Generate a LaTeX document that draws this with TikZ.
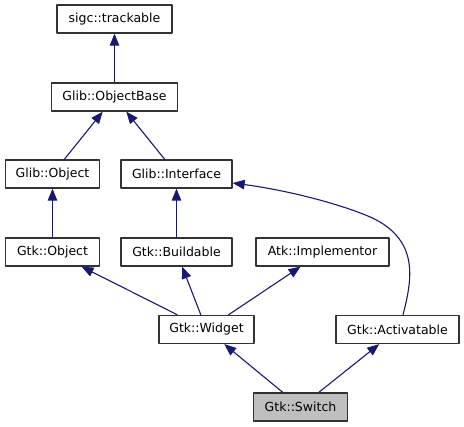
\documentclass[tikz,border=0pt]{standalone}
\usepackage{fontspec}
\setmainfont{DejaVu Sans}
\usetikzlibrary{arrows.meta}
\definecolor{doxEdge}{HTML}{191970}
\definecolor{doxLine}{HTML}{333333}
\definecolor{doxCur}{HTML}{BFBFBF}

\begin{document}
\begin{tikzpicture}[x=1pt,y=-1pt,>={Triangle[length=12pt,width=9.5pt]},line join=round]
\path[fill=white] (0,0) rectangle (464,427);
\tikzset{cls/.style={draw=doxLine,fill=white,line width=1.3pt,minimum height=28pt,inner xsep=0pt,font=\fontsize{12.5}{15}\selectfont},cur/.style={cls,fill=doxCur},inh/.style={draw=doxEdge,line width=1.1pt,->}}
% class boxes
\node[cls,minimum width=115pt] (trackable) at (114.5,19) {sigc::trackable};
\node[cls,minimum width=126pt] (objbase) at (114.5,97) {Glib::ObjectBase};
\node[cls,minimum width=94pt] (glibobj) at (52.5,174) {Glib::Object};
\node[cls,minimum width=111pt] (iface) at (176.5,174) {Glib::Interface};
\node[cls,minimum width=94pt] (gtkobj) at (52.5,252) {Gtk::Object};
\node[cls,minimum width=111pt] (buildable) at (176.5,252) {Gtk::Buildable};
\node[cls,minimum width=133pt] (atkimpl) at (322.5,252) {Atk::Implementor};
\node[cls,minimum width=95pt] (widget) at (206.5,329.5) {Gtk::Widget};
\node[cls,minimum width=123pt] (activ) at (397.5,329.5) {Gtk::Activatable};
\node[cur,minimum width=94pt] (switch) at (300.5,407) {Gtk::Switch};
% inheritance
\draw[inh] (objbase) -- (trackable);
\draw[inh] (glibobj) -- (objbase); \draw[inh] (iface) -- (objbase);
\draw[inh] (gtkobj) -- (glibobj); \draw[inh] (buildable) -- (iface);
\draw[inh] (widget) -- (gtkobj); \draw[inh] (widget) -- (buildable); \draw[inh] (widget) -- (atkimpl);
\draw[inh] ([xshift=5.5pt]activ.north) .. controls (412,280) and (418,245) .. (380,222) .. controls (361,210.5) and (300,192) .. ([yshift=-9pt]iface.east);
\draw[inh] (switch) -- (widget); \draw[inh] (switch) -- (activ);
\end{tikzpicture}
\end{document}
